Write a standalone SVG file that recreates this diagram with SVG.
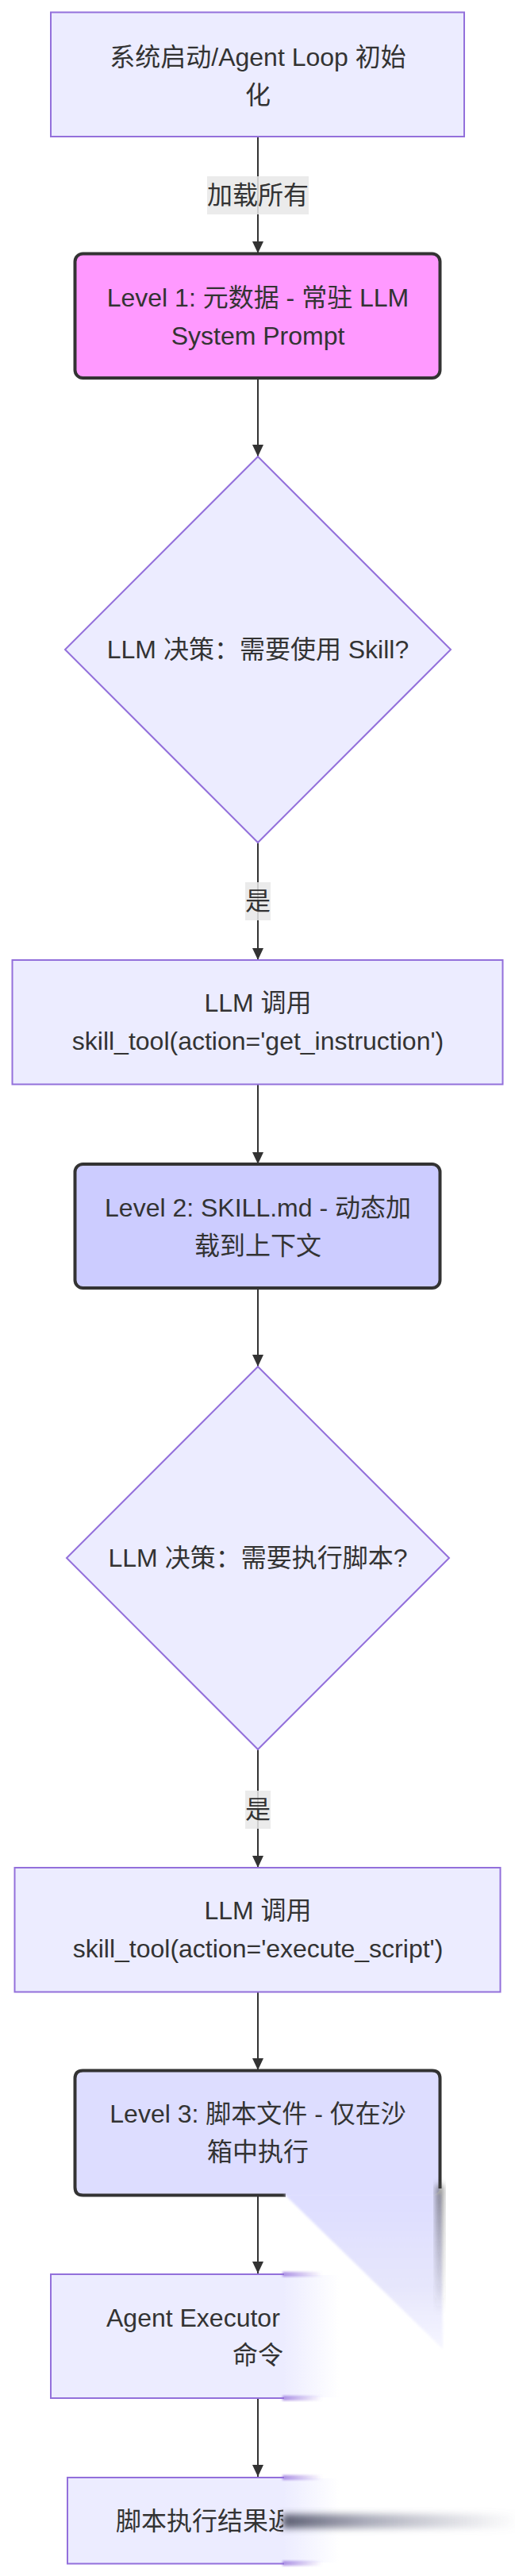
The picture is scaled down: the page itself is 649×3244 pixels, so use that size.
<svg xmlns="http://www.w3.org/2000/svg" width="649" height="3244" viewBox="0 0 649 3244">
<style>
text{font-family:"Liberation Sans","Noto Sans CJK SC",sans-serif;font-size:32px;fill:#333;text-anchor:middle}
.def{fill:#ECECFF;stroke:#9370DB;stroke-width:2}
.dia{fill:#ECECFF;stroke:#9370DB;stroke-width:2}
.lvl{stroke:#333;stroke-width:4}
.edge{stroke:#333;stroke-width:2;fill:none;marker-end:url(#arr)}
.lbl{fill:#e8e8e8;opacity:.85}
</style>
<defs>
<marker id="arr" markerUnits="userSpaceOnUse" markerWidth="16" markerHeight="16" viewBox="0 0 16 16" refX="15" refY="8" orient="auto"><path d="M0,1 L15,8 L0,15 z" fill="#333"/></marker>
<clipPath id="cut"><rect x="0" y="0" width="358" height="3244"/></clipPath>
<linearGradient id="fadeP" x1="0" x2="1" y1="0" y2="0"><stop offset="0" stop-color="#ECECFF"/><stop offset="1" stop-color="#ECECFF" stop-opacity="0"/></linearGradient>
<linearGradient id="fadeS" x1="0" x2="1" y1="0" y2="0"><stop offset="0" stop-color="#9370DB" stop-opacity=".8"/><stop offset="1" stop-color="#9370DB" stop-opacity="0"/></linearGradient>
<linearGradient id="fadeG" x1="0" x2="1" y1="0" y2="0"><stop offset="0" stop-color="#55586a" stop-opacity=".95"/><stop offset=".35" stop-color="#70738a" stop-opacity=".6"/><stop offset="1" stop-color="#8a8ca0" stop-opacity="0"/></linearGradient>
<linearGradient id="fadeV" x1="0" x2="0" y1="0" y2="1"><stop offset="0" stop-color="#444" stop-opacity=".8"/><stop offset="1" stop-color="#444" stop-opacity="0"/></linearGradient>
<linearGradient id="tri" x1="0" x2="0" y1="0" y2="1"><stop offset="0" stop-color="#DDDDFF"/><stop offset=".6" stop-color="#E6E6FC"/><stop offset="1" stop-color="#F6F6FF"/></linearGradient>
<filter id="blur" x="-50%" y="-50%" width="200%" height="200%"><feGaussianBlur stdDeviation="4"/></filter>
<filter id="blur2" x="-20%" y="-20%" width="140%" height="140%"><feGaussianBlur stdDeviation="1.5"/></filter>
</defs>
<rect width="649" height="3244" fill="#fff"/>
<g id="connectors">
<line class="edge" x1="325" y1="172" x2="325" y2="319"/>
<line class="edge" x1="325" y1="476" x2="325" y2="575"/>
<line class="edge" x1="325" y1="1061" x2="325" y2="1209"/>
<line class="edge" x1="325" y1="1366" x2="325" y2="1466"/>
<line class="edge" x1="325" y1="1622" x2="325" y2="1721"/>
<line class="edge" x1="325" y1="2203" x2="325" y2="2352"/>
<line class="edge" x1="325" y1="2508" x2="325" y2="2607"/>
<line class="edge" x1="325" y1="2764" x2="325" y2="2863"/>
<line class="edge" x1="325" y1="3020" x2="325" y2="3119"/>
<g id="label-load"><rect class="lbl" x="261" y="222" width="128" height="48"/><text x="325" y="257">加载所有</text></g>
<g id="label-yes1"><rect class="lbl" x="309" y="1111" width="32" height="48"/><text x="325" y="1146">是</text></g>
<g id="label-yes2"><rect class="lbl" x="309" y="2255" width="32" height="48"/><text x="325" y="2290">是</text></g>
</g>
<g id="start"><rect class="def" x="64" y="15.5" width="521" height="156.5"/><text x="325" y="83">系统启动/Agent Loop 初始</text><text x="325" y="131">化</text></g>
<g id="level1"><rect class="lvl" x="94.5" y="319.5" width="460" height="156.5" rx="10" fill="#FF99FF"/><text x="325" y="386">Level 1: 元数据 - 常驻 LLM</text><text x="325" y="434">System Prompt</text></g>
<g id="decide1"><polygon class="dia" points="325,575 568,818 325,1061 82,818"/><text x="325" y="829">LLM 决策：需要使用 Skill?</text></g>
<g id="call1"><rect class="def" x="15.5" y="1209" width="618" height="156.5"/><text x="325" y="1274">LLM 调用</text><text x="325" y="1322">skill_tool(action='get_instruction')</text></g>
<g id="level2"><rect class="lvl" x="94.5" y="1466" width="460" height="156" rx="10" fill="#CCCCFF"/><text x="325" y="1532">Level 2: SKILL.md - 动态加</text><text x="325" y="1580">载到上下文</text></g>
<g id="decide2"><polygon class="dia" points="325,1721 566,1962 325,2203 84,1962"/><text x="325" y="1973">LLM 决策：需要执行脚本?</text></g>
<g id="call2"><rect class="def" x="18.5" y="2352" width="612" height="156.5"/><text x="325" y="2417">LLM 调用</text><text x="325" y="2465">skill_tool(action='execute_script')</text></g>
<g id="level3">
<rect x="94.5" y="2607.5" width="460" height="157" rx="10" fill="#DDDDFF"/>
<path d="M360,2764.5 L104.5,2764.5 Q94.5,2764.5 94.5,2754.5 L94.5,2617.5 Q94.5,2607.5 104.5,2607.5 L544.5,2607.5 Q554.5,2607.5 554.5,2617.5 L554.5,2756" fill="none" stroke="#333" stroke-width="4"/>
<text x="325" y="2673">Level 3: 脚本文件 - 仅在沙</text><text x="325" y="2721">箱中执行</text>
</g>
<g id="executor" clip-path="url(#cut)"><rect class="def" x="64" y="2864" width="522" height="156"/><text x="134" y="2930" style="text-anchor:start">Agent Executor</text><text x="325" y="2977">命令</text></g>
<g id="result" clip-path="url(#cut)"><rect class="def" x="85" y="3120" width="480" height="108.5"/><text x="146" y="3186" style="text-anchor:start">脚本执行结果返</text></g>
<g id="smear">
<polygon points="358,2763 556,2763 558,2958" fill="url(#tri)" filter="url(#blur2)"/>
<rect x="550" y="2752" width="8" height="160" fill="url(#fadeV)" filter="url(#blur)"/>
<rect x="357" y="2865" width="70" height="154" fill="url(#fadeP)"/>
<rect x="357" y="3121" width="70" height="106" fill="url(#fadeP)"/>
<rect x="356" y="2861" width="50" height="6" fill="url(#fadeS)" filter="url(#blur2)"/>
<rect x="356" y="3017" width="50" height="6" fill="url(#fadeS)" filter="url(#blur2)"/>
<rect x="356" y="3117" width="50" height="6" fill="url(#fadeS)" filter="url(#blur2)"/>
<rect x="356" y="3225" width="50" height="6" fill="url(#fadeS)" filter="url(#blur2)"/>
<rect x="356" y="3166" width="300" height="18" fill="url(#fadeG)" filter="url(#blur)"/>
</g>
</svg>
